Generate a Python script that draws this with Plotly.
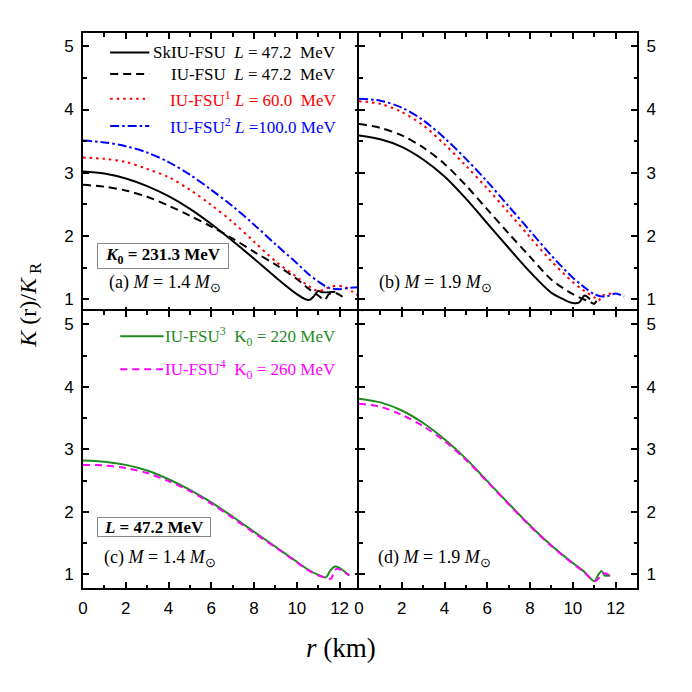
import plotly.graph_objects as go

# ---------------- data ----------------
# panel (a): M = 1.4 Msun, K0 = 231.3 MeV
r_a_sk = [0, 1, 2, 3, 4, 5, 6, 7, 8, 9, 10, 10.4, 10.6, 10.8, 11.0, 11.2, 11.8]
K_a_sk = [3.02, 2.99, 2.91, 2.79, 2.63, 2.43, 2.19, 1.92, 1.64, 1.35, 1.08, 1.0, 0.99, 1.05, 1.13, 1.11, 1.12]
r_a_iu = [0, 1, 2, 3, 4, 5, 6, 7, 8, 9, 10, 10.5, 11.0, 11.3, 11.5, 11.8, 12.3]
K_a_iu = [2.81, 2.78, 2.72, 2.62, 2.48, 2.32, 2.15, 1.96, 1.75, 1.55, 1.32, 1.18, 1.06, 0.99, 1.08, 1.10, 1.0]
r_a_iu1 = [0, 1, 2, 3, 4, 5, 6, 7, 8, 9, 10, 10.5, 11.0, 11.3, 11.6, 12.2, 12.6, 12.9]
K_a_iu1 = [3.24, 3.22, 3.17, 3.06, 2.93, 2.73, 2.49, 2.22, 1.91, 1.60, 1.35, 1.22, 1.13, 1.16, 1.20, 1.20, 1.12, 1.05]
r_a_iu2 = [0, 1, 2, 3, 4, 5, 6, 7, 8, 9, 10, 10.5, 11.0, 11.5, 12.0, 12.5, 12.9]
K_a_iu2 = [3.51, 3.48, 3.42, 3.32, 3.17, 2.97, 2.73, 2.47, 2.18, 1.87, 1.57, 1.41, 1.28, 1.18, 1.16, 1.18, 1.19]

# panel (b): M = 1.9 Msun
r_b_sk = [0, 1, 2, 3, 4, 5, 6, 7, 8, 9, 9.5, 10.0, 10.3, 10.55, 10.8]
K_b_sk = [3.59, 3.53, 3.41, 3.21, 2.94, 2.59, 2.20, 1.81, 1.43, 1.10, 1.01, 0.94, 0.95, 1.06, 1.0]
r_b_iu = [0, 1, 2, 3, 4, 5, 6, 7, 8, 9, 10, 10.5, 10.8, 11.0, 11.2]
K_b_iu = [3.77, 3.71, 3.59, 3.40, 3.14, 2.80, 2.42, 2.04, 1.67, 1.31, 1.08, 1.0, 0.96, 0.93, 1.04]
r_b_iu1 = [0, 1, 2, 3, 4, 5, 6, 7, 8, 9, 10, 10.5, 11.0, 11.2, 11.4, 11.8]
K_b_iu1 = [4.13, 4.09, 3.96, 3.75, 3.45, 3.11, 2.75, 2.37, 1.98, 1.60, 1.27, 1.14, 1.03, 0.98, 1.06, 1.09]
r_b_iu2 = [0, 1, 2, 3, 4, 5, 6, 7, 8, 9, 10, 10.5, 11.0, 11.5, 12.0, 12.4]
K_b_iu2 = [4.17, 4.14, 4.03, 3.83, 3.55, 3.22, 2.86, 2.47, 2.08, 1.69, 1.34, 1.20, 1.08, 1.04, 1.09, 1.04]

# panel (c): M = 1.4 Msun, L = 47.2 MeV
r_c_iu3 = [0, 1, 2, 3, 4, 5, 6, 7, 8, 9, 10, 10.5, 11.0, 11.35, 11.55, 11.75, 11.95, 12.45]
K_c_iu3 = [2.82, 2.80, 2.75, 2.66, 2.52, 2.35, 2.15, 1.92, 1.68, 1.44, 1.20, 1.08, 0.99, 0.95, 1.05, 1.12, 1.11, 0.98]
r_c_iu4 = [0, 1, 2, 3, 4, 5, 6, 7, 8, 9, 10, 10.5, 11.0, 11.3, 11.6, 11.75, 11.9, 12.45]
K_c_iu4 = [2.75, 2.74, 2.70, 2.62, 2.49, 2.33, 2.13, 1.90, 1.66, 1.43, 1.19, 1.07, 0.98, 0.95, 0.93, 1.06, 1.09, 0.98]

# panel (d): M = 1.9 Msun
r_d_iu3 = [0, 1, 2, 3, 4, 5, 6, 7, 8, 9, 10, 10.5, 11.0, 11.2, 11.35, 11.5, 11.75]
K_d_iu3 = [3.81, 3.75, 3.62, 3.42, 3.16, 2.85, 2.49, 2.13, 1.78, 1.46, 1.18, 1.05, 0.89, 1.0, 1.05, 0.98, 0.98]
r_d_iu4 = [0, 1, 2, 3, 4, 5, 6, 7, 8, 9, 10, 10.5, 11.0, 11.1, 11.25, 11.4, 11.75]
K_d_iu4 = [3.73, 3.68, 3.55, 3.37, 3.13, 2.83, 2.48, 2.12, 1.77, 1.45, 1.17, 1.04, 0.89, 0.90, 0.95, 1.02, 0.98]

legend_ab = ["SkIU-FSU\u00a0\u00a0<i>L</i> = 47.2\u00a0\u00a0MeV",
             "IU-FSU\u00a0\u00a0<i>L</i> = 47.2\u00a0\u00a0MeV",
             "IU-FSU<sup>1</sup> <i>L</i> = 60.0\u00a0\u00a0MeV",
             "IU-FSU<sup>2</sup> <i>L</i> =100.0 MeV"]
legend_cd = ["IU-FSU<sup>3</sup>\u00a0\u00a0K<sub>0</sub> = 220 MeV",
             "IU-FSU<sup>4</sup>\u00a0\u00a0K<sub>0</sub> = 260 MeV"]

BLACK, RED, BLUE, GREEN, MAGENTA = "#000000", "#ff0000", "#0000ff", "#1f8a1f", "#ff00ff"
DASH_BLACK = "8px,5px"
DOT_RED = "2.5px,4px"
DASHDOT_BLUE = "9px,3px,2.5px,3px"
DASH_MAG = "7px,5px"
SERIF = "Liberation Serif, Times New Roman, serif"
SANS = "Liberation Sans, Arial, sans-serif"

fig = go.Figure()

def add(x, y, xa, ya, color, dash):
    fig.add_trace(go.Scatter(x=x, y=y, xaxis=xa, yaxis=ya, mode="lines", showlegend=False,
                             line=dict(color=color, width=2, dash=dash, shape="spline", smoothing=0.9)))

add(r_a_sk, K_a_sk, "x", "y", BLACK, "solid")
add(r_a_iu, K_a_iu, "x", "y", BLACK, DASH_BLACK)
add(r_a_iu1, K_a_iu1, "x", "y", RED, DOT_RED)
add(r_a_iu2, K_a_iu2, "x", "y", BLUE, DASHDOT_BLUE)
add(r_b_sk, K_b_sk, "x2", "y2", BLACK, "solid")
add(r_b_iu, K_b_iu, "x2", "y2", BLACK, DASH_BLACK)
add(r_b_iu1, K_b_iu1, "x2", "y2", RED, DOT_RED)
add(r_b_iu2, K_b_iu2, "x2", "y2", BLUE, DASHDOT_BLUE)
add(r_c_iu3, K_c_iu3, "x3", "y3", GREEN, "solid")
add(r_c_iu4, K_c_iu4, "x3", "y3", MAGENTA, DASH_MAG)
add(r_d_iu3, K_d_iu3, "x4", "y4", GREEN, "solid")
add(r_d_iu4, K_d_iu4, "x4", "y4", MAGENTA, DASH_MAG)

LW = 2
PW, PH = 554, 555
XMID = 0.5
YMID = 0.497
dx = LW / PW
dy = LW / PH

def xax(domain, anchor, labels):
    return dict(domain=domain, anchor=anchor, range=[0, 13], dtick=2, tick0=0,
                showline=True, linecolor="black", linewidth=LW, mirror="allticks",
                ticks="inside", ticklen=6, tickwidth=1.5, tickcolor="black",
                minor=dict(dtick=1, ticks="inside", ticklen=3.5, tickwidth=1.5, tickcolor="black"),
                showgrid=False, zeroline=False, showticklabels=labels,
                tickfont=dict(family=SANS, size=17, color="black"), ticklabelstandoff=4)

def yax(domain, anchor, side):
    return dict(domain=domain, anchor=anchor, range=[0.78, 5.21], dtick=1, tick0=0, side=side,
                showline=True, linecolor="black", linewidth=LW, mirror="allticks",
                ticks="inside", ticklen=6, tickwidth=1.5, tickcolor="black",
                minor=dict(dtick=0.5, ticks="inside", ticklen=3.5, tickwidth=1.5, tickcolor="black"),
                showgrid=False, zeroline=False,
                tickfont=dict(family=SANS, size=17, color="black"), ticklabelstandoff=4)

fig.update_layout(
    width=692, height=692,
    margin=dict(l=83, r=55, t=33, b=104),
    paper_bgcolor="white", plot_bgcolor="white",
    xaxis=xax([0, XMID + dx / 2], "y", False), yaxis=yax([YMID - dy / 2, 1], "x", "left"),
    xaxis2=xax([XMID - dx / 2, 1], "y2", False), yaxis2=yax([YMID - dy / 2, 1], "x2", "right"),
    xaxis3=xax([0, XMID + dx / 2], "y3", True), yaxis3=yax([0, YMID + dy / 2], "x3", "left"),
    xaxis4=xax([XMID - dx / 2, 1], "y4", True), yaxis4=yax([0, YMID + dy / 2], "x4", "right"),
)

ann = []
shapes = []
# legend panel (a)
rows_y = [4.90, 4.56, 4.17, 3.74]
cols = [BLACK, BLACK, RED, BLUE]
dashes = ["solid", DASH_BLACK, DOT_RED, DASHDOT_BLUE]
for txt, yy, c, d in zip(legend_ab, rows_y, cols, dashes):
    ann.append(dict(x=11.92, y=yy, xref="x", yref="y", text=txt, showarrow=False,
                    xanchor="right", yanchor="middle", font=dict(family=SERIF, size=17, color=c)))
    shapes.append(dict(type="line", xref="x", yref="y", x0=1.27, x1=3.1, y0=yy, y1=yy,
                       line=dict(color=c, width=2, dash=d)))
# legend panel (c)
rows_y_c = [4.81, 4.28]
for txt, yy, c, d in zip(legend_cd, rows_y_c, [GREEN, MAGENTA], ["solid", DASH_MAG]):
    ann.append(dict(x=11.92, y=yy, xref="x3", yref="y3", text=txt, showarrow=False,
                    xanchor="right", yanchor="middle", font=dict(family=SERIF, size=17, color=c)))
    shapes.append(dict(type="line", xref="x3", yref="y3", x0=1.74, x1=3.77, y0=yy, y1=yy,
                       line=dict(color=c, width=2, dash=d)))

# boxed labels
ann.append(dict(x=3.76, y=1.69, xref="x", yref="y", text="<b><i>K</i><sub>0</sub> = 231.3 MeV</b>",
                showarrow=False, font=dict(family=SERIF, size=17, color="black"),
                bordercolor="#888888", borderwidth=1, borderpad=2, width=126, height=20, bgcolor="white"))
ann.append(dict(x=3.31, y=1.75, xref="x3", yref="y3", text="<b><i>L</i> = 47.2 MeV</b>",
                showarrow=False, font=dict(family=SERIF, size=17, color="black"),
                bordercolor="#888888", borderwidth=1, borderpad=1, width=110, height=16, bgcolor="white"))

# panel labels
plabels = [("(a) <i>M</i> = 1.4 <i>M</i><sub>\u2299</sub>", "x", "y", 1.14, 1.25),
           ("(b) <i>M</i> = 1.9 <i>M</i><sub>\u2299</sub>", "x2", "y2", 0.85, 1.25),
           ("(c) <i>M</i> = 1.4 <i>M</i><sub>\u2299</sub>", "x3", "y3", 0.89, 1.26),
           ("(d) <i>M</i> = 1.9 <i>M</i><sub>\u2299</sub>", "x4", "y4", 0.80, 1.26)]
for t, xa, ya, xx, yy in plabels:
    ann.append(dict(x=xx, y=yy, xref=xa, yref=ya, text=t, showarrow=False, xanchor="left",
                    yanchor="middle", font=dict(family=SERIF, size=18, color="black")))

# axis titles
ann.append(dict(x=-0.096, y=0.51, xref="paper", yref="paper", text="<i>K</i> (r)/<i>K</i><sub> R</sub>",
                textangle=-90, showarrow=False, xanchor="center", yanchor="middle",
                font=dict(family=SERIF, size=24, color="black")))
ann.append(dict(x=0.466, y=-0.108, xref="paper", yref="paper", text="<i>r</i> (km)",
                showarrow=False, xanchor="center", yanchor="middle",
                font=dict(family=SERIF, size=27, color="black")))

fig.update_layout(annotations=ann, shapes=shapes)
fig.write_html("out.html", config={"displayModeBar": False},
               post_script="document.body.style.margin='0px';")
